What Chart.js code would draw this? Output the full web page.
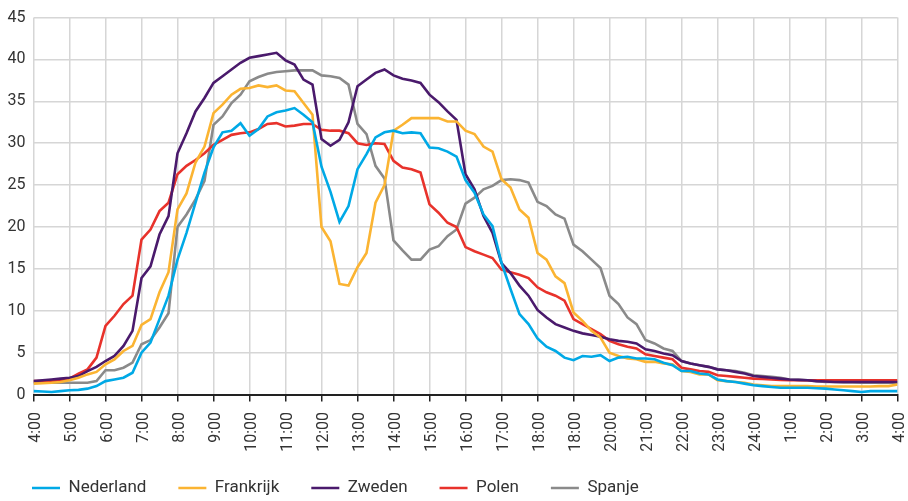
<!DOCTYPE html>
<html><head><meta charset="utf-8">
<script src="https://cdn.jsdelivr.net/npm/chart.js@4"></script>
<style>html,body{margin:0;padding:0;background:#fff}canvas{display:block}</style>
</head><body>
<canvas id="c" width="908" height="501"></canvas>
<script>
// Hour tick labels (as printed in the reference, including its "18:00" twice)
const hourLabels = ['4:00','5:00','6:00','7:00','8:00','9:00','10:00','11:00','12:00','13:00','14:00','15:00','16:00','17:00','18:00','18:00','20:00','21:00','22:00','23:00','24:00','1:00','2:00','3:00','4:00'];
const seriesNames = ['Nederland','Frankrijk','Zweden','Polen','Spanje'];

// quarter-hour values, 4:00 -> 4:00 (97 points)
const nederland = [
0.4,0.35,0.3,0.4, 0.5,0.55,0.7,1.0, 1.6,1.8,2.0,2.6, 5.0,6.2,9.0,11.8,
16.1,19.3,22.9,26.5, 29.5,31.3,31.5,32.4, 30.9,31.7,33.2,33.7, 33.9,34.2,33.4,32.5,
27.2,24.2,20.6,22.5, 26.9,28.7,30.7,31.3, 31.5,31.2,31.3,31.2, 29.5,29.4,29.0,28.4,
25.6,24.1,21.5,20.1, 15.7,12.6,9.6,8.4, 6.7,5.7,5.2,4.4, 4.1,4.6,4.5,4.7,
4.0,4.4,4.5,4.3, 4.3,4.2,3.8,3.5, 2.8,2.8,2.5,2.4, 1.8,1.6,1.5,1.3,
1.1,1.0,0.9,0.8, 0.8,0.8,0.8,0.75, 0.7,0.6,0.5,0.4, 0.3,0.4,0.4,0.4, 0.4];
const frankrijk = [
1.3,1.35,1.4,1.5, 1.7,2.0,2.4,2.7, 3.6,4.2,5.2,5.8, 8.3,9.0,12.2,14.6,
22.1,24.0,27.7,29.6, 33.6,34.6,35.8,36.5, 36.6,36.9,36.7,36.9, 36.3,36.2,34.8,33.4,
20.0,18.3,13.2,13.0, 15.2,16.9,22.9,25.0, 31.5,32.2,33.0,33.0, 33.0,33.0,32.6,32.6,
31.5,31.1,29.6,29.0, 25.7,24.7,22.1,21.1, 16.9,16.1,14.1,13.3, 9.8,8.8,7.6,6.8,
5.0,4.6,4.3,4.2, 3.9,3.9,3.7,3.6, 2.8,2.7,2.4,2.4, 1.7,1.6,1.5,1.4,
1.2,1.1,1.0,1.0, 1.0,1.0,1.0,0.95, 0.95,0.95,0.95,0.95, 0.95,0.95,1.0,1.0, 1.2];
const zweden = [
1.6,1.7,1.8,1.9, 2.0,2.2,2.8,3.3, 4.0,4.6,5.8,7.6, 13.9,15.3,19.1,21.3,
28.8,31.2,33.8,35.4, 37.2,38.0,38.8,39.6, 40.2,40.4,40.6,40.8, 39.9,39.4,37.6,37.0,
30.5,29.7,30.4,32.5, 36.8,37.6,38.4,38.8, 38.1,37.7,37.5,37.2, 35.8,34.9,33.8,32.8,
26.3,24.5,21.3,19.3, 15.7,14.5,13.0,11.8, 10.1,9.2,8.4,8.0, 7.6,7.3,7.1,6.9,
6.6,6.4,6.3,6.1, 5.4,5.2,4.9,4.7, 4.0,3.7,3.5,3.3, 3.0,2.9,2.7,2.5,
2.2,2.1,2.0,1.9, 1.8,1.75,1.7,1.6, 1.55,1.5,1.5,1.5, 1.5,1.5,1.5,1.5, 1.5];
const polen = [
1.6,1.6,1.6,1.7, 1.9,2.5,3.0,4.4, 8.2,9.4,10.8,11.8, 18.5,19.7,21.9,22.9,
26.3,27.3,28.0,28.8, 29.8,30.4,31.0,31.2, 31.3,31.7,32.3,32.4, 32.0,32.1,32.3,32.3,
31.6,31.5,31.5,31.2, 30.0,29.8,30.0,29.9, 27.9,27.1,26.9,26.5, 22.7,21.7,20.5,20.0,
17.6,17.1,16.7,16.3, 14.9,14.6,14.3,13.9, 12.8,12.2,11.8,11.2, 9.0,8.4,7.8,7.2,
6.4,6.0,5.7,5.5, 4.8,4.6,4.4,4.2, 3.2,3.0,2.8,2.7, 2.3,2.2,2.1,2.0,
1.9,1.85,1.8,1.75, 1.7,1.7,1.7,1.7, 1.7,1.7,1.7,1.7, 1.7,1.7,1.7,1.7, 1.7];
const spanje = [
1.4,1.4,1.4,1.4, 1.4,1.4,1.4,1.6, 2.9,2.9,3.2,3.8, 6.0,6.5,8.0,9.7,
20.0,21.5,23.3,25.5, 32.2,33.2,34.8,35.8, 37.4,37.9,38.3,38.5, 38.6,38.7,38.7,38.7,
38.1,38.0,37.8,37.0, 32.3,31.1,27.3,25.8, 18.4,17.2,16.1,16.1, 17.3,17.7,18.9,19.7,
22.8,23.5,24.5,24.9, 25.6,25.7,25.6,25.3, 23.0,22.5,21.5,21.0, 17.9,17.1,16.1,15.1,
11.8,10.8,9.2,8.4, 6.5,6.1,5.5,5.2, 4.0,3.7,3.5,3.3, 3.0,2.9,2.8,2.6,
2.3,2.2,2.1,2.0, 1.8,1.75,1.7,1.6, 1.5,1.5,1.45,1.45, 1.4,1.4,1.4,1.4, 1.4];

const seriesValues = [nederland, frankrijk, zweden, polen, spanje];
const seriesColors = ['#00a9e6','#fbb432','#4a1a6c','#e8322b','#8a8a8a'];

const datasets = seriesNames.map((name, k) => ({
  label: name,
  data: seriesValues[k].map((v, i) => ({x: i, y: v})),
  borderColor: seriesColors[k],
  backgroundColor: seriesColors[k],
  borderWidth: 2.6,
  pointRadius: 0,
  tension: 0,
  fill: false
}));

new Chart(document.getElementById('c'), {
  type: 'line',
  data: { datasets },
  options: {
    responsive: false,
    animation: false,
    devicePixelRatio: 1,
    layout: { padding: { left: 0, right: 10.5, top: 14.5, bottom: -5.5 } },
    plugins: {
      legend: {
        position: 'bottom',
        align: 'start',
        labels: {
          usePointStyle: true,
          pointStyle: 'line',
          pointStyleWidth: 28,
          padding: 32,
          color: '#333333',
          font: { family: 'Roboto', size: 17 }
        }
      },
      tooltip: { enabled: false }
    },
    scales: {
      x: {
        type: 'linear',
        min: 0,
        max: (hourLabels.length - 1) * 4,
        afterBuildTicks: s => { s.ticks = hourLabels.map((l, i) => ({ value: i * 4 })); },
        ticks: {
          autoSkip: false,
          maxRotation: 90,
          minRotation: 90,
          padding: 10.5,
          labelOffset: 2,
          color: '#333333',
          font: { family: 'Roboto', size: 16 },
          callback: v => hourLabels[Math.round(v / 4)]
        },
        grid: { color: '#d6d6d6', lineWidth: 1.5, tickColor: '#222222', tickLength: 7, tickWidth: 1.5 },
        border: { color: '#222222', width: 2 },
        afterFit: s => {
          s.height = 53; s.paddingLeft = 0; s.paddingRight = 0;
          s._computeLabelArea = () => undefined; // do not clip long rotated labels
        }
      },
      y: {
        min: 0,
        max: 45,
        ticks: { stepSize: 5, padding: 8, color: '#333333', font: { family: 'Roboto', size: 16 } },
        grid: { color: '#d6d6d6', lineWidth: 1.5, drawTicks: false },
        border: { display: false },
        afterFit: s => { s.width = 33.5; }
      }
    }
  }
});
</script>
</body></html>
